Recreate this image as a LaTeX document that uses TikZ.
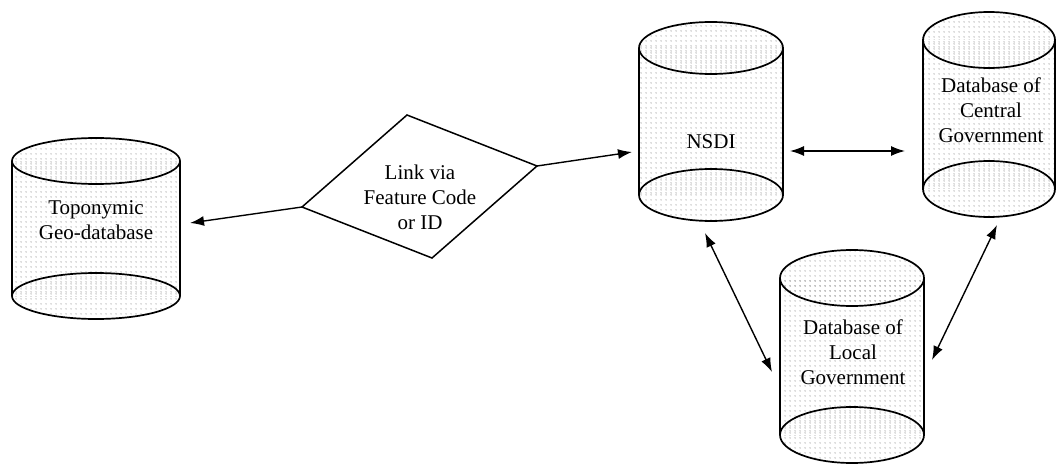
\documentclass[tikz,border=0pt]{standalone}
\usepackage{fontspec}
\setmainfont{Liberation Serif}
\usetikzlibrary{arrows.meta,patterns.meta}

% light stipple used inside the database drums
\tikzdeclarepattern{
  name=stipple,
  type=uncolored,
  bounding box={(0pt,0pt) and (4.5pt,4.5pt)},
  tile size={(4.5pt,4.5pt)},
  code={\pgfpathcircle{\pgfpoint{2.25pt}{2.25pt}}{0.6pt}\pgfusepath{fill}}
}

\tikzset{
  drumfill/.style={pattern={stipple}, pattern color=black!55},
  outline/.style={draw=black, line width=1.7pt},
  label/.style={align=center, inner sep=0pt, font=\fontsize{21}{25}\selectfont},
  tip/.tip={Latex[length=14pt,width=10pt]},
  link/.style={line width=1.4pt, -tip},
  twoway/.style={line width=1.4pt, tip-tip}
}

% database drum: centre x, top ellipse y, bottom ellipse y, x radius, y radius
\newcommand\dbdrum[5]{%
  \fill[drumfill] (#1,#2) ellipse [x radius=#4, y radius=#5];
  \fill[drumfill] (#1-#4,#2) rectangle (#1+#4,#3);
  \fill[drumfill] (#1,#3) ellipse [x radius=#4, y radius=#5];
  \draw[outline] (#1,#2) ellipse [x radius=#4, y radius=#5];
  \draw[outline] (#1,#3) ellipse [x radius=#4, y radius=#5];
  \draw[outline] (#1-#4,#2) -- (#1-#4,#3) (#1+#4,#2) -- (#1+#4,#3);
}

\begin{document}
\begin{tikzpicture}[x=1pt, y=-1pt]
  \useasboundingbox (0,0) rectangle (1057,465);

  % drums
  \dbdrum{96}{161}{296}{84}{23}
  \dbdrum{711}{48}{195}{72}{26}
  \dbdrum{989}{40}{189}{66}{28}
  \dbdrum{852}{278}{435}{72}{28}

  \node[label] (topo) at (96,220) {Toponymic\\Geo-database};
  \node[label] (nsdi) at (711,142) {NSDI};
  \node[label] (central) at (991,110) {Database of\\Central\\Government};
  \node[label] (local) at (853,352) {Database of\\Local\\Government};

  % decision diamond
  \coordinate (dtop) at (407,115);
  \coordinate (dright) at (537,166);
  \coordinate (dbot) at (432,258);
  \coordinate (dleft) at (302,207);
  \draw[line width=1.5pt, fill=white] (dtop) -- (dright) -- (dbot) -- (dleft) -- cycle;
  \node[label] (linkvia) at (420,197) {Link via\\Feature Code\\or ID};

  % connector ends
  \coordinate (topoIn) at (190,223);
  \coordinate (nsdiIn) at (632,152);
  \coordinate (nsdiR) at (790,151);
  \coordinate (centralL) at (905,151);
  \coordinate (nsdiB) at (705,233);
  \coordinate (localL) at (772,372);
  \coordinate (centralB) at (997,225);
  \coordinate (localR) at (932,360);

  \draw[link] (dleft) -- (topoIn);
  \draw[link] (dright) -- (nsdiIn);
  \draw[twoway] (nsdiR) -- (centralL);
  \draw[twoway] (nsdiB) -- (localL);
  \draw[twoway] (centralB) -- (localR);
\end{tikzpicture}
\end{document}
